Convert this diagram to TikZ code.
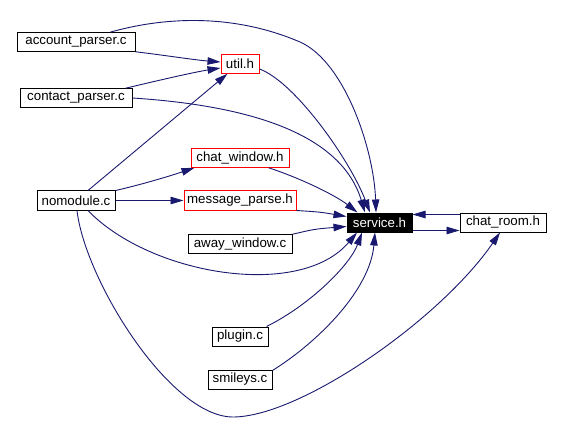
\documentclass[tikz,border=0pt]{standalone}
\usepackage{fontspec}
\setmainfont{Liberation Sans}
\usetikzlibrary{arrows.meta,calc}
\definecolor{edgeblue}{RGB}{25,25,112}
\begin{document}
\begin{tikzpicture}[x=1pt,y=-1pt,
  box/.style={draw=black,line width=1pt,fill=white,inner sep=0pt,minimum height=18.5pt,font=\fontsize{13.3}{15}\selectfont},
  redbox/.style={box,draw=red},
  darkbox/.style={box,fill=black,text=white},
  dep/.style={draw=edgeblue,line width=0.9pt,-{Triangle[length=13pt,width=7.5pt]}}]
\path[use as bounding box,fill=white] (0,0) rectangle (561,446);

\node[box,minimum width=118pt] (acc) at (76,42) {account\_parser.c};
\node[redbox,minimum width=38pt] (util) at (240,64) {util.h};
\node[box,minimum width=112pt] (contact) at (76,98) {contact\_parser.c};
\node[redbox,minimum width=98pt] (chatwin) at (240,158) {chat\_window.h};
\node[box,minimum width=78pt,minimum height=19pt] (nomod) at (76,200.5) {nomodule.c};
\node[redbox,minimum width=112pt,minimum height=19pt] (msg) at (240,200.5) {message\_parse.h};
\node[box,minimum width=104pt] (away) at (240,244) {away\_window.c};
\node[darkbox,minimum width=65pt,minimum height=19pt] (service) at (379.5,222.5) {service.h};
\node[box,minimum width=86pt,minimum height=19pt] (chatroom) at (503,222.5) {chat\_room.h};
\node[box,minimum width=56pt,minimum height=19pt] (plugin) at (240,336.5) {plugin.c};
\node[box,minimum width=64pt,minimum height=19pt] (smileys) at (240,379.5) {smileys.c};

% account_parser.c
\draw[dep] (acc.south east) .. controls (170,56) and (195,60) .. ($(util.west)+(0,-2)$);
\draw[dep] ($(acc.north)+(34,0)$) .. controls (160,18) and (230,12) .. (300,42)
   .. controls (345,62) and (374,150) .. ($(service.north)+(-3.5,0)$);
% contact_parser.c
\draw[dep] ($(contact.north east)+(-7,0)$) .. controls (160,80) and (195,72) .. ($(util.west)+(0,4)$);
\draw[dep] (contact.east) .. controls (240,105) and (340,130) .. ($(service.north)+(-14.5,0)$);
% util.h
\draw[dep] ($(util.east)+(0,5)$) .. controls (295,82) and (350,160) .. ($(service.north)+(-9.5,0)$);
% nomodule.c
\draw[dep] ($(nomod.north)+(12,0)$) -- ($(util.south west)+(7,0)$);
\draw[dep] (nomod.north east) .. controls (140,185) and (170,176) .. ($(chatwin.south west)+(4,0)$);
\draw[dep] (nomod.east) -- (msg.west);
\draw[dep] ($(nomod.south)+(12,0)$) .. controls (150,275) and (300,300) .. ($(service.south)+(-22.5,0)$);
\draw[dep] ($(nomod.south)+(1,0)$) .. controls (85,280) and (170,417) .. (233,417)
   .. controls (300,417) and (440,320) .. ($(chatroom.south)+(-3,0)$);
% headers into service.h
\draw[dep] ($(chatwin.south east)+(-21,0)$) .. controls (300,178) and (335,195) .. ($(service.north west)+(11,0)$);
\draw[dep] (msg.south east) .. controls (320,212) .. ($(service.west)+(0,-6)$);
\draw[dep] (away.north east) .. controls (315,229) .. ($(service.west)+(0,4)$);
\draw[dep] ($(plugin.north east)+(-2,0)$) .. controls (310,305) and (350,265) .. ($(service.south)+(-17.5,0)$);
\draw[dep] ($(smileys.north east)+(0,1)$) .. controls (318,342) and (370,290) .. ($(service.south)+(-4.5,0)$);
% service.h <-> chat_room.h
\draw[dep] ($(service.east)+(0,8)$) -- ($(chatroom.west)+(0,8)$);
\draw[dep] ($(chatroom.west)+(0,-8)$) -- ($(service.east)+(0,-8)$);
\end{tikzpicture}
\end{document}
